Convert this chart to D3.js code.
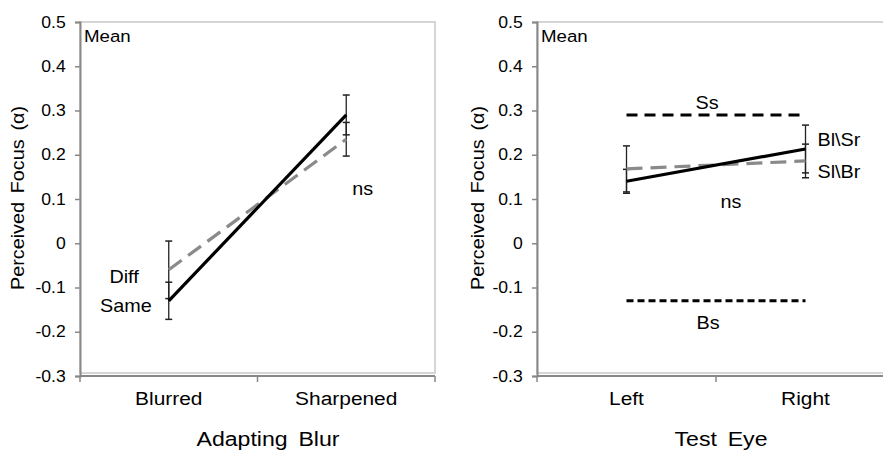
<!DOCTYPE html>
<html>
<head>
<meta charset="utf-8">
<script src="https://cdn.jsdelivr.net/npm/d3@7"></script>
<style>
  body { margin: 0; background: #fff; }
  svg text { font-family: "Liberation Sans", Arial, sans-serif; fill: #000; }
</style>
</head>
<body>
<svg id="chart" width="883" height="451"></svg>
<script>
// values
var yTicks = [-0.3, -0.2, -0.1, 0, 0.1, 0.2, 0.3, 0.4, 0.5];

// left panel: adapting blur
var blurCats = ["Blurred", "Sharpened"];
var sameMean = [-0.13, 0.29];
var sameErr = [0.042, 0.045];
var diffMean = [-0.06, 0.235];
var diffErr = [0.065, 0.038];

// right panel: test eye
var eyeCats = ["Left", "Right"];
var blSrMean = [0.14, 0.213];
var blSrErr = [0.027, 0.054];
var slBrMean = [0.168, 0.186];
var slBrErr = [0.052, 0.038];
var ssLevel = 0.29;   // Ss reference line
var bsLevel = -0.13;  // Bs reference line

var SX = 1.1; // source font is a bit wider than Liberation Sans

var svg = d3.select("#chart");
svg.append("rect").attr("width", 883).attr("height", 451).attr("fill", "#fff");

var y = d3.scaleLinear().domain([-0.3, 0.5]).range([376, 22]);

function txt(g, x, yy, s, size, anchor) {
  return g.append("text")
    .attr("transform", "translate(" + x + "," + yy + ") scale(" + SX + ",1)")
    .attr("text-anchor", anchor || "start")
    .style("font-size", size + "px")
    .text(s);
}

function panel(x0, x1, cats, xTitle, titleX) {
  var g = svg.append("g");
  var x = d3.scaleBand().domain(cats).range([x0, x1]).padding(0);

  // plot area border
  g.append("rect")
    .attr("x", x0).attr("y", y(0.5))
    .attr("width", x1 - x0).attr("height", y(-0.3) - y(0.5) - 3)
    .attr("fill", "none").attr("stroke", "#c8c8c8").attr("stroke-width", 1.5);

  // y axis
  var ya = g.append("g").attr("transform", "translate(" + x0 + ",0)")
    .call(d3.axisLeft(y).tickValues(yTicks).tickSize(5).tickPadding(8)
      .tickFormat(function(d) { return d === 0 ? "0" : d.toFixed(1); }));
  ya.select(".domain").attr("stroke", "#888").attr("stroke-width", 2);
  ya.selectAll(".tick line").attr("stroke", "#888").attr("stroke-width", 1.5);
  ya.selectAll(".tick text")
    .attr("transform", "scale(" + SX + ",1)")
    .style("font-size", "16px");

  // x axis, ticks at category boundaries
  var yb = y(-0.3);
  g.append("line").attr("x1", x0).attr("x2", x1).attr("y1", yb).attr("y2", yb)
    .attr("stroke", "#888").attr("stroke-width", 2);
  var bounds = cats.map(function(d) { return x(d); }).concat([x1]);
  g.selectAll(".xt").data(bounds).enter().append("line")
    .attr("x1", function(d) { return d; }).attr("x2", function(d) { return d; })
    .attr("y1", yb).attr("y2", yb + 6)
    .attr("stroke", "#888").attr("stroke-width", 1.5);
  cats.forEach(function(c) {
    txt(g, x(c) + x.bandwidth() / 2, 405, c, 19, "middle");
  });

  txt(g, titleX, 446, xTitle, 21, "middle").style("word-spacing", "4px");
  txt(g, x0 + 4, 42, "Mean", 17);

  return { g: g, x: x, cx: function(c) { return x(c) + x.bandwidth() / 2; } };
}

function yTitle(cx) {
  svg.append("text")
    .attr("transform", "translate(" + cx + ",198) rotate(-90) scale(" + SX + ",1)")
    .attr("text-anchor", "middle")
    .attr("dy", "0.35em")
    .style("font-size", "18px")
    .style("word-spacing", "3px")
    .text("Perceived Focus (\u03b1)");
}

function errorBars(p, cats, means, errs) {
  cats.forEach(function(c, i) {
    var cx = p.cx(c), top = y(means[i] + errs[i]), bot = y(means[i] - errs[i]);
    p.g.append("line").attr("x1", cx).attr("x2", cx).attr("y1", top).attr("y2", bot)
      .attr("stroke", "#222").attr("stroke-width", 1.3);
    [top, bot].forEach(function(v) {
      p.g.append("line").attr("x1", cx - 3.5).attr("x2", cx + 3.5).attr("y1", v).attr("y2", v)
        .attr("stroke", "#222").attr("stroke-width", 1.5);
    });
  });
}

function series(p, cats, means, color, dash) {
  var line = d3.line()
    .x(function(d, i) { return p.cx(cats[i]); })
    .y(function(d) { return y(d); });
  var path = p.g.append("path").datum(means)
    .attr("d", line)
    .attr("fill", "none")
    .attr("stroke", color)
    .attr("stroke-width", 3.2);
  if (dash) path.attr("stroke-dasharray", dash);
}

// ---- left panel
var L = panel(80, 435, blurCats, "Adapting Blur", 268);
yTitle(18);
errorBars(L, blurCats, diffMean, diffErr);
errorBars(L, blurCats, sameMean, sameErr);
series(L, blurCats, diffMean, "#8a8a8a", "16,8");
series(L, blurCats, sameMean, "#000", null);
txt(L.g, L.cx("Blurred") - 30, y(-0.09), "Diff", 18, "end");
txt(L.g, L.cx("Blurred") - 17, y(-0.155), "Same", 18, "end");
txt(L.g, L.cx("Sharpened") + 6, y(0.11), "ns", 18, "start");

// ---- right panel
var R = panel(537, 895, eyeCats, "Test Eye", 721);
yTitle(478);
var rx0 = R.cx("Left"), rx1 = R.cx("Right");
R.g.append("line").attr("x1", rx0).attr("x2", rx1)
  .attr("y1", y(ssLevel)).attr("y2", y(ssLevel))
  .attr("stroke", "#000").attr("stroke-width", 3).attr("stroke-dasharray", "11,7");
R.g.append("line").attr("x1", rx0).attr("x2", rx1)
  .attr("y1", y(bsLevel)).attr("y2", y(bsLevel))
  .attr("stroke", "#000").attr("stroke-width", 3).attr("stroke-dasharray", "7,4");
errorBars(R, eyeCats, slBrMean, slBrErr);
errorBars(R, eyeCats, blSrMean, blSrErr);
series(R, eyeCats, slBrMean, "#8a8a8a", "16,8");
series(R, eyeCats, blSrMean, "#000", null);
txt(R.g, (rx0 + rx1) / 2 - 9, y(ssLevel) - 6, "Ss", 18, "middle");
txt(R.g, (rx0 + rx1) / 2 - 8, y(bsLevel) + 28, "Bs", 18, "middle");
txt(R.g, (rx0 + rx1) / 2 + 15, y(0.08), "ns", 18, "middle");
txt(R.g, rx1 + 12, y(0.22), "Bl\\Sr", 18, "start");
txt(R.g, rx1 + 12, y(0.147), "Sl\\Br", 18, "start");
</script>
</body>
</html>
